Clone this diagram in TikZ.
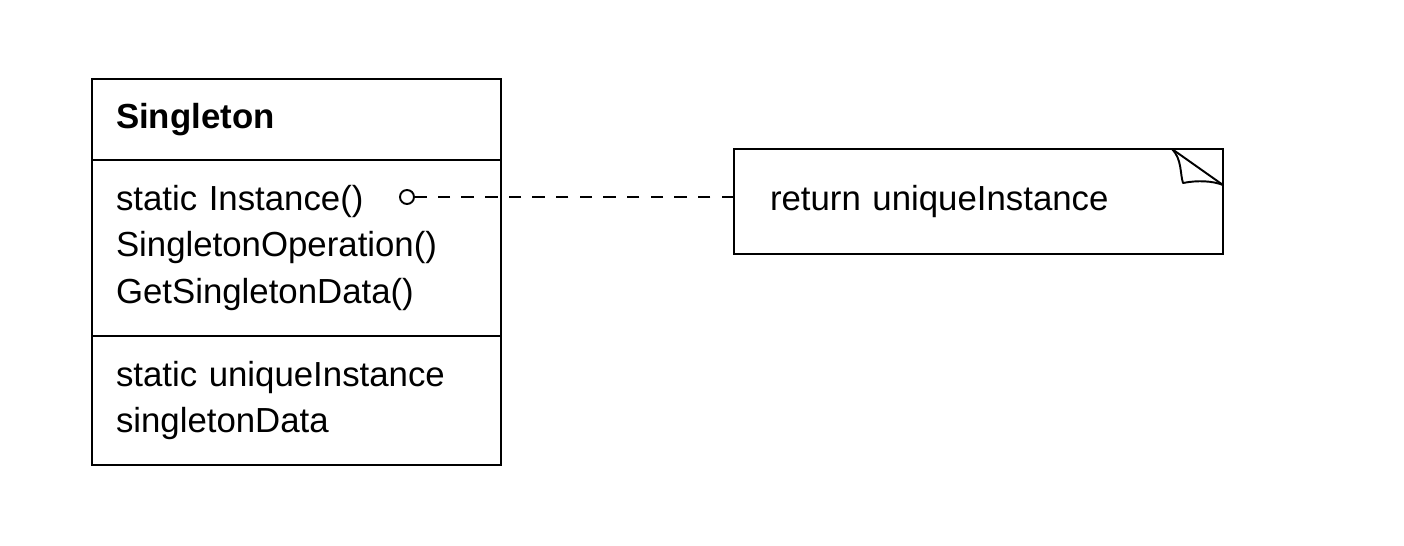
\documentclass[tikz,border=0pt]{standalone}
\usepackage{fontspec}
\setmainfont{Liberation Sans}
\usetikzlibrary{positioning,calc}

\begin{document}
\begin{tikzpicture}[
    umlpart/.style={draw, rectangle, line width=1.1pt, outer sep=0pt,
        minimum width=8.18cm, text width=7.22cm, inner xsep=0.48cm,
        inner ysep=0pt, align=left, font=\fontsize{19.8}{26.7}\selectfont},
    notebox/.style={draw, rectangle, line width=1.1pt, outer sep=0pt,
        minimum width=9.78cm, minimum height=2.1cm, text width=8.34cm,
        inner xsep=0.72cm, align=left, font=\fontsize{19.8}{26.7}\selectfont}
    ]
        % Page size
        \useasboundingbox (0,0) rectangle (28.08,-10.92);
        % Class box
        \node[umlpart, minimum height=1.62cm, anchor=north west] (title) at (1.84,-1.58) {\textbf{Singleton}};
        \node[umlpart, minimum height=3.52cm, below=0pt of title] (ops) {static Instance()\\SingletonOperation()\\GetSingletonData()};
        \node[umlpart, minimum height=2.58cm, below=0pt of ops] (attrs) {static uniqueInstance\\singletonData};
        % Note
        \node[notebox, anchor=north west] (note) at (14.68,-2.98) {return uniqueInstance};
        \draw[line width=1.1pt] ($(note.north east)+(-1.02,0)$) -- ($(note.north east)+(0,-0.72)$);
        \draw[line width=1.1pt, line join=round] ($(note.north east)+(-1.02,0)$)
            .. controls ($(note.north east)+(-0.82,-0.2)$) and ($(note.north east)+(-0.86,-0.5)$) .. ($(note.north east)+(-0.8,-0.68)$)
            .. controls ($(note.north east)+(-0.5,-0.62)$) and ($(note.north east)+(-0.2,-0.64)$) .. ($(note.north east)+(0,-0.72)$);
        % Link from operation to note
        \node[circle, draw, fill=white, line width=1.1pt, minimum size=0.28cm, inner sep=0pt] (dot) at (8.14,-3.94) {};
        \draw[line width=1.1pt, dash pattern=on 0.25cm off 0.223cm] (dot -| note.west) -- (dot);
\end{tikzpicture}
\end{document}
